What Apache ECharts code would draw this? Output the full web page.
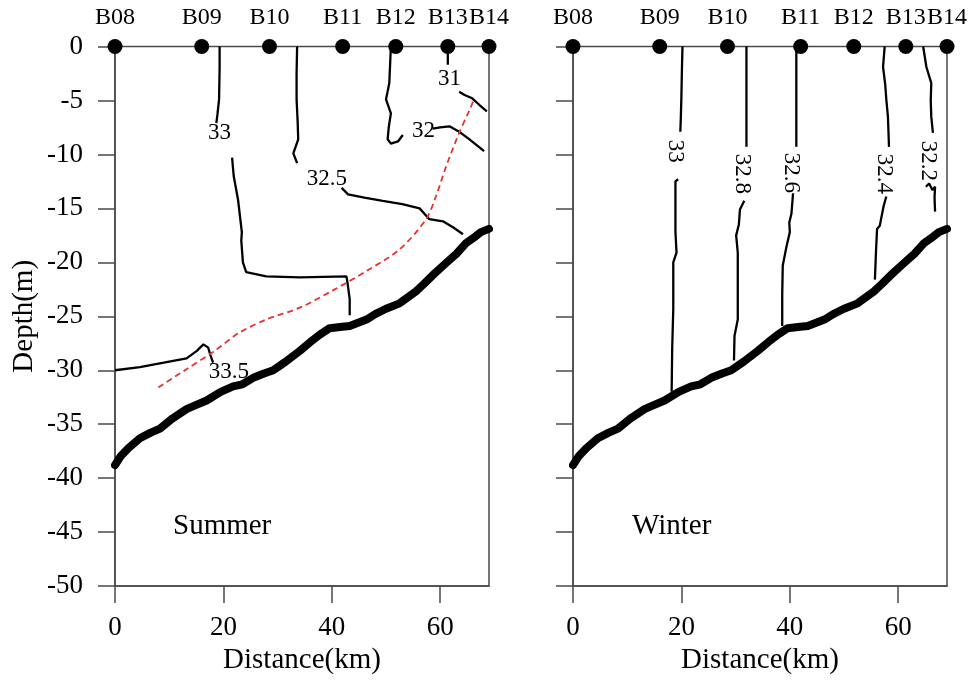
<!DOCTYPE html>
<html>
<head>
<meta charset="utf-8">
<script src="https://cdn.jsdelivr.net/npm/echarts@6/dist/echarts.min.js"></script>
<style>html,body{margin:0;padding:0;background:#fff;}#c{width:976px;height:680px;}</style>
</head>
<body>
<div id="c"></div>
<script>
// ---- data ----
const stationNames = ['B08','B09','B10','B11','B12','B13','B14'];
const stationKm = [0, 16.0, 28.5, 42.0, 51.8, 61.4, 69];
const yTicks = [0,-5,-10,-15,-20,-25,-30,-35,-40,-45,-50];
const xTicks = [0,20,40,60];

const bottomProfile = [[0,-38.8],[1,-38.0],[2.5,-37.2],[4.6,-36.3],[6.5,-35.8],[8.3,-35.4],[10.5,-34.5],[13.2,-33.6],[15,-33.2],[16.9,-32.8],[19.5,-32.0],[21.8,-31.5],[23.5,-31.3],[25.5,-30.7],[27.5,-30.3],[29.2,-30.0],[31.5,-29.2],[34.1,-28.2],[36,-27.4],[37.8,-26.7],[39.6,-26.1],[41.5,-26.0],[43.3,-25.9],[46.4,-25.3],[48,-24.8],[50.0,-24.3],[52.5,-23.8],[55.5,-22.7],[57,-22.0],[58.6,-21.2],[61,-20.1],[63,-19.2],[64.8,-18.2],[66.5,-17.6],[67.5,-17.2],[69,-16.9]];

const redDashed = [[8.0,-31.6],[13.2,-29.9],[18.1,-28.3],[23.0,-26.5],[27.9,-25.3],[34.1,-24.2],[40.2,-22.6],[46.4,-20.8],[52.5,-18.8],[57.4,-16.0],[59.2,-13.9],[61.1,-11.1],[63.5,-8.0],[65.4,-5.9],[66.3,-4.8]];

// Summer isohalines (segments)
const summer33 = [
  [[19.3,0],[19.3,-2],[19.2,-4.9],[18.9,-6.3],[18.7,-7.1]],
  [[21.6,-10.3],[21.9,-12],[22.7,-14.2],[23.4,-17.2],[23.3,-18],[23.6,-20],[24.2,-20.9],[27.9,-21.3],[34.1,-21.4],[42.7,-21.3],[42.9,-21.9],[43.3,-23.4],[43.3,-24.9]]
];
const summer32_5 = [
  [[33.6,0],[33.5,-2.5],[33.5,-4.9],[33.7,-7],[33.8,-8.6],[32.9,-9.9],[33.6,-10.8]],
  [[41.8,-13.1],[43.0,-13.7],[46,-14.0],[49.4,-14.3],[53,-14.6],[56.2,-15.0],[58.0,-16.0],[60.5,-16.2],[62.5,-16.8],[64.2,-17.4]]
];
const summer32 = [
  [[50.9,0],[50.6,-3.4],[50.0,-4.9],[50.9,-6.2],[50.5,-7.5],[50.3,-8.6],[50.9,-9.0],[52.2,-8.8],[53.1,-8.2]],
  [[58.6,-7.6],[60,-7.5],[61.7,-7.4],[63.5,-7.9],[65.4,-8.6],[68.1,-9.7]]
];
const summer31 = [
  [[61.4,0],[61.4,-1.7]],
  [[63.5,-4.2],[64.5,-4.5],[65.9,-4.8],[67.2,-5.4],[68.6,-6.0]]
];
const summer33_5 = [
  [[0,-30.0],[4.6,-29.7],[9,-29.3],[13.2,-28.9],[15.1,-28.2],[16.3,-27.6],[17.2,-27.9],[17.6,-28.6],[18.1,-29.3]]
];
const summerLabels = [[19.3,-8.0,'33'],[39.1,-12.3,'32.5'],[56.9,-7.8,'32'],[61.7,-3.0,'31'],[21.0,-30.2,'33.5']];

// Winter isohalines (segments)
const winter33 = [
  [[20.2,0],[20.1,-2],[20.0,-4.6],[19.9,-6.5],[19.8,-7.9]],
  [[19.4,-12.3],[18.9,-12.5],[18.9,-17.2],[19.1,-19.1],[18.5,-20.0],[18.5,-24.3],[18.3,-28],[18.2,-32.0]]
];
const winter32_8 = [
  [[32.0,0],[32.0,-5],[32.0,-9.3]],
  [[31.6,-14.3],[30.8,-15.1],[30.6,-16.5],[30.1,-17.5],[30.4,-19.1],[30.4,-22],[30.4,-25.3],[29.8,-26.8],[29.7,-29.1]]
];
const winter32_6 = [
  [[41.2,0],[41.2,-5],[41.2,-9.3]],
  [[40.6,-13.6],[40.3,-15.5],[39.9,-16.3],[40.0,-17.2],[39.4,-18.5],[38.7,-20.3],[38.6,-23],[38.6,-25.9]]
];
const winter32_4 = [
  [[57.5,0],[57.2,-1.9],[57.6,-3.5],[57.8,-4.9],[58.1,-6.5],[58.3,-9.3]],
  [[57.8,-13.9],[57.3,-14.8],[56.6,-16.6],[56.1,-16.9],[55.9,-19],[55.7,-21.6]]
];
const winter32_2 = [
  [[64.6,0],[65.2,-1.9],[66.1,-3.4],[66.0,-5],[66.1,-6.5],[66.4,-8.0]],
  [[65.1,-13.0],[65.7,-12.7],[66.3,-13.3],[66.8,-13.0],[66.7,-14.0],[66.8,-15.3]]
];
const winterLabels = [[18.9,-9.7,'33'],[31.2,-11.8,'32.8'],[40.2,-11.7,'32.6'],[57.3,-11.8,'32.4'],[65.5,-10.6,'32.2']];

// ---- chart ----
const FONT = 'Liberation Serif';
const AX = '#4a4a4a';
const chart = echarts.init(document.getElementById('c'), null, {renderer:'canvas'});

function contourSeries(groups, idx) {
  const out = [];
  groups.forEach(g => g.forEach(seg => out.push({
    type:'line', xAxisIndex:idx, yAxisIndex:idx, data:seg, showSymbol:false, symbol:'none',
    silent:true, lineStyle:{color:'#000', width:2.3, opacity:1}, z:3, animation:false
  })));
  return out;
}
function labelSeries(labels, idx, rot) {
  return {
    type:'scatter', xAxisIndex:idx, yAxisIndex:idx, data:labels, symbolSize:0, silent:true, z:5, animation:false,
    itemStyle:{opacity:1},
    label:{show:true, position:'inside', formatter:p=>p.data[2], color:'#000', fontFamily:FONT, fontSize:23, rotate:rot}
  };
}
function stationSeries(idx) {
  return {
    type:'scatter', xAxisIndex:idx, yAxisIndex:idx, data:stationKm.map((k,i)=>[k,0,stationNames[i]]),
    symbol:'circle', symbolSize:15, itemStyle:{color:'#000', opacity:1}, clip:false, z:10, silent:true, animation:false,
    label:{show:true, position:'top', distance:9, formatter:p=>p.data[2], color:'#000', fontFamily:FONT, fontSize:24}
  };
}
function bottomSeries(idx) {
  return {type:'line', xAxisIndex:idx, yAxisIndex:idx, data:bottomProfile, showSymbol:false, symbol:'none', silent:true,
    lineStyle:{color:'#000', width:8, cap:'round', join:'round'}, z:4, animation:false};
}
function xAx(idx) {
  return {
    type:'value', gridIndex:idx, min:0, max:69, interval:20, position:'bottom',
    name:'Distance(km)', nameLocation:'middle', nameGap:53,
    nameTextStyle:{fontFamily:FONT, fontSize:29, color:'#000'},
    axisLine:{show:true, onZero:false, lineStyle:{color:AX, width:1.5}},
    axisTick:{show:true, length:17, lineStyle:{color:AX, width:1.5}},
    axisLabel:{margin:28, fontFamily:FONT, fontSize:27, color:'#000', showMaxLabel:false},
    splitLine:{show:false}
  };
}
function yAx(idx, showLabels) {
  return {
    type:'value', gridIndex:idx, min:-50, max:0, interval:5, position:'left',
    name: showLabels ? 'Depth(m)' : '', nameLocation:'middle', nameGap:76,
    nameTextStyle:{fontFamily:FONT, fontSize:29, color:'#000'},
    axisLine:{show:true, onZero:false, lineStyle:{color:AX, width:1.5}},
    axisTick:{show:true, length:17, lineStyle:{color:AX, width:1.5}},
    axisLabel:{show:showLabels, margin:32, fontFamily:FONT, fontSize:27, color:'#000'},
    splitLine:{show:false}
  };
}

const series = [];
// left (summer)
series.push(bottomSeries(0));
series.push(...contourSeries([summer33, summer32_5, summer32, summer31, summer33_5], 0));
series.push({type:'line', xAxisIndex:0, yAxisIndex:0, data:redDashed, smooth:0.3, showSymbol:false, symbol:'none', silent:true,
  lineStyle:{color:'#e8312f', width:1.8, type:[6,4]}, z:6, animation:false});
series.push(labelSeries(summerLabels, 0, 0));
series.push(stationSeries(0));
// right (winter)
series.push(bottomSeries(1));
series.push(...contourSeries([winter33, winter32_8, winter32_6, winter32_4, winter32_2], 1));
series.push(labelSeries(winterLabels, 1, -90));
series.push(stationSeries(1));

chart.setOption({
  animation:false,
  backgroundColor:'#fff',
  title:[
    {text:'Summer', left:168, top:507, textStyle:{fontFamily:FONT, fontSize:29, fontWeight:'normal', color:'#000'}},
    {text:'Winter', left:627, top:507, textStyle:{fontFamily:FONT, fontSize:29, fontWeight:'normal', color:'#000'}}
  ],
  grid:[
    {left:115, top:46.5, width:374, height:541, show:true, borderColor:AX, borderWidth:1.5, backgroundColor:'transparent'},
    {left:573, top:46.5, width:374, height:541, show:true, borderColor:AX, borderWidth:1.5, backgroundColor:'transparent'}
  ],
  xAxis:[xAx(0), xAx(1)],
  yAxis:[yAx(0,true), yAx(1,false)],
  series: series
});
</script>
</body>
</html>
